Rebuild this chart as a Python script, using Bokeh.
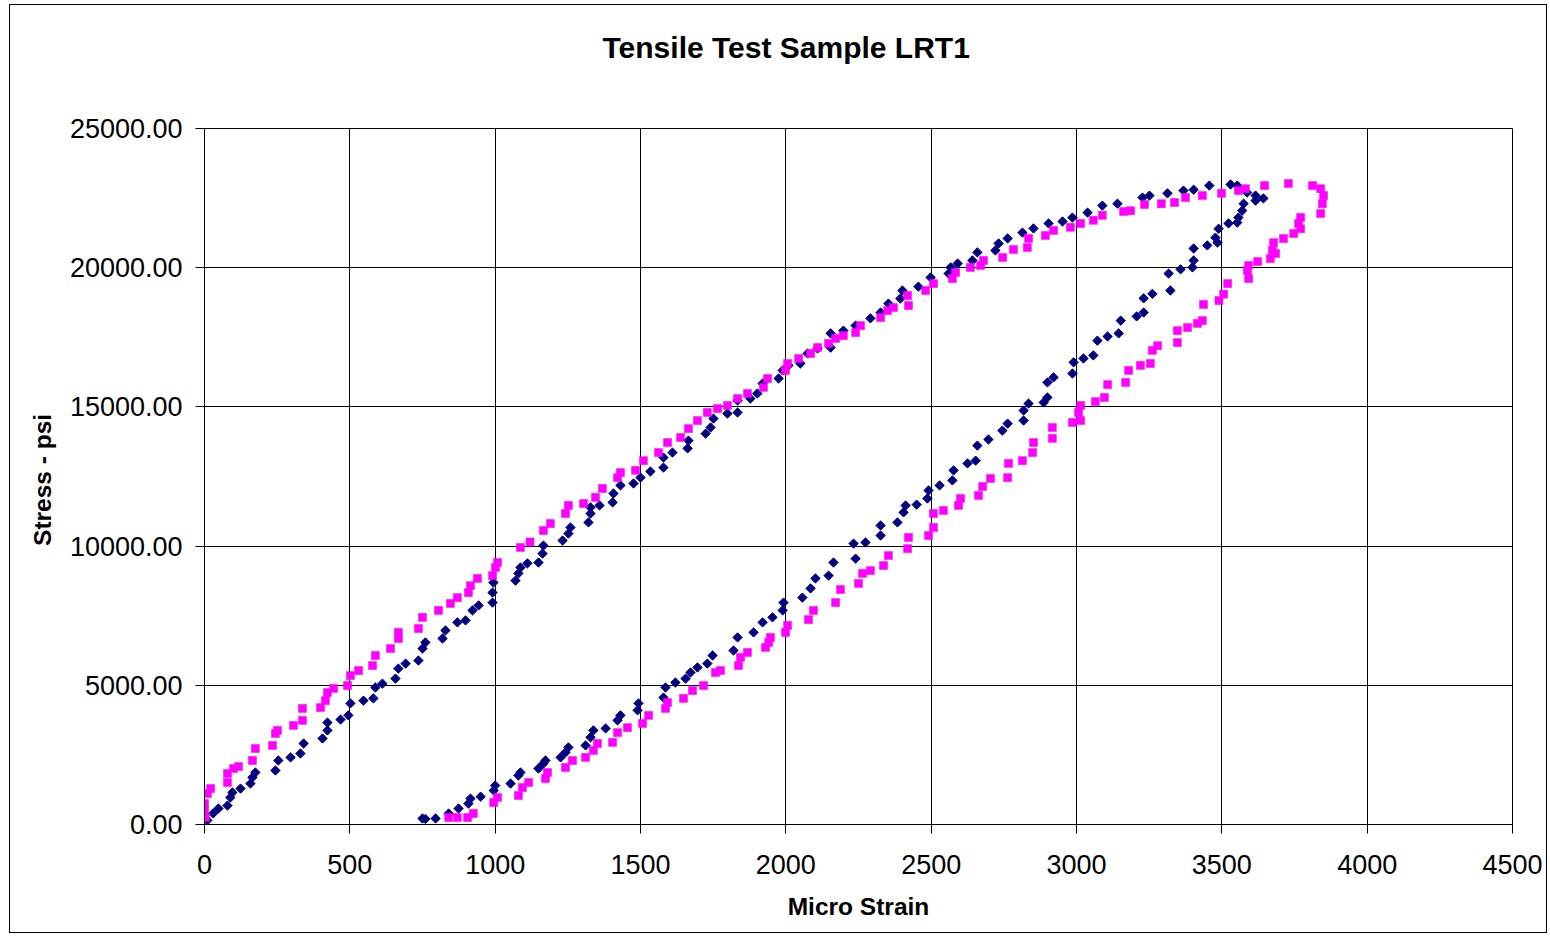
import numpy as np
from bokeh.plotting import figure
from bokeh.models import FixedTicker, NumeralTickFormatter, Title, Range1d
from bokeh.embed import file_html
from bokeh.resources import INLINE

# ---- data ----
navy_strain = [10, 30, 48, 79, 89, 96, 124, 158, 165, 175, 244, 254, 296, 330, 341, 406, 423, 423, 468, 495,
               502, 547, 581, 588, 612, 657, 667, 692, 736, 750, 760, 819, 829, 870, 898, 922, 943, 991, 991, 994,
               1070, 1080, 1087, 1111, 1149, 1163, 1166, 1232, 1252, 1259, 1321, 1328, 1328, 1359, 1404, 1407, 1431, 1476, 1500, 1534,
               1579, 1579, 1610, 1662, 1665, 1724, 1741, 1751, 1799, 1834, 1834, 1878, 1902, 1920, 1975, 1989, 2009, 2050, 2075, 2109,
               2154, 2154, 2198, 2240, 2291, 2326, 2353, 2394, 2401, 2456, 2498, 2560, 2567, 2591, 2642, 2659, 2721, 2732, 2763, 2814,
               2852, 2904, 2952, 2986, 3038, 3089, 3141, 3227, 3251, 3313, 3368, 3403, 3457, 3530, 3553, 3587, 3616, 3643, 3616,
               3575, 3570, 3557, 3553, 3523, 3489, 3478, 3485, 3450, 3403, 3403, 3399, 3358, 3317, 3323, 3261, 3231, 3231, 3207, 3152,
               3145, 3107, 3072, 3058, 3024, 2990, 2986, 2921, 2900, 2900, 2887, 2835, 2818, 2818, 2763, 2745, 2697, 2659, 2653, 2625,
               2577, 2573, 2529, 2491, 2487, 2450, 2412, 2405, 2384, 2326, 2326, 2274, 2233, 2240, 2164, 2147, 2102, 2085, 2057, 1992,
               1989, 1954, 1920, 1889, 1834, 1820, 1748, 1730, 1696, 1672, 1655, 1620, 1586, 1579, 1493, 1490, 1431, 1421, 1380, 1338,
               1328, 1311, 1252, 1242, 1225, 1173, 1166, 1149, 1087, 1080, 1053, 1000, 995, 950, 915, 908, 874, 840, 795, 760, 750]
navy_stress = [150, 400, 575, 680, 970, 1150, 1290, 1470, 1690, 1870, 1940, 2300, 2410, 2550, 2910, 3090, 3380, 3660, 3770, 3920,
               4350, 4450, 4530, 4920, 5060, 5240, 5600, 5780, 5890, 6320, 6540, 6680, 6970, 7260, 7330, 7690, 7870, 7970, 8330, 8690,
               8760, 9020, 9230, 9380, 9410, 9730, 10020, 10200, 10450, 10670, 10850, 11170, 11390, 11460, 11570, 11890, 12180, 12250, 12460, 12680,
               12820, 13180, 13360, 13510, 13790, 14040, 14260, 14580, 14760, 14800, 15230, 15300, 15480, 15840, 16020, 16310, 16490, 16560, 16920, 17100,
               17130, 17640, 17740, 17920, 18180, 18390, 18710, 18890, 19180, 19320, 19650, 19790, 20010, 20150, 20260, 20550, 20620, 20870, 21050, 21260,
               21410, 21590, 21660, 21800, 21980, 22230, 22300, 22520, 22590, 22670, 22770, 22800, 22950, 22990, 22950, 22700, 22590, 22490, 22410,
               22300, 22050, 21800, 21620, 21590, 21400, 21080, 20900, 20800, 20690, 20260, 20010, 19940, 19790, 19180, 19060, 18900, 18390, 18250, 18100,
               17640, 17530, 17380, 16850, 16740, 16600, 16200, 16060, 15880, 15340, 15160, 15120, 14870, 14510, 14400, 14150, 13830, 13610, 13070, 12970,
               12720, 12360, 12180, 12000, 11710, 11490, 11460, 11210, 10850, 10740, 10380, 10130, 10090, 9550, 9410, 8940, 8840, 8480, 8150, 7970,
               7690, 7440, 7260, 6900, 6720, 6250, 6070, 5780, 5640, 5460, 5240, 5100, 4920, 4560, 4350, 4100, 3920, 3740, 3450, 3380,
               3130, 2840, 2770, 2590, 2410, 2300, 2190, 2010, 1870, 1760, 1470, 1400, 1220, 1000, 930, 750, 575, 395, 215, 200, 215]

magenta_strain = [3, 0, 0, 10, 21, 79, 79, 100, 117, 165, 175, 234, 244, 251, 306, 337, 337, 399, 416, 423,
                  444, 492, 502, 530, 578, 588, 640, 667, 667, 736, 750, 805, 846, 870, 908, 915, 939, 991, 1001, 1008,
                  1087, 1120, 1166, 1190, 1242, 1252, 1304, 1345, 1369, 1421, 1431, 1483, 1510, 1562, 1593, 1638, 1665, 1696, 1730, 1765,
                  1799, 1834, 1868, 1923, 1937, 1999, 2006, 2044, 2085, 2109, 2147, 2171, 2198, 2240, 2257, 2326, 2350, 2370, 2422, 2419,
                  2481, 2508, 2573, 2584, 2635, 2670, 2680, 2746, 2783, 2831, 2835, 2893, 2921, 2979, 3014, 3058, 3089, 3162, 3186, 3234,
                  3292, 3337, 3375, 3433, 3499, 3557, 3581, 3647, 3729, 3812, 3840, 3850, 3846, 3840,
                  3771, 3764, 3771, 3747, 3712, 3678, 3674, 3685, 3667, 3623, 3592, 3588, 3592, 3520, 3506, 3490, 3437, 3433, 3416, 3382,
                  3347, 3347, 3279, 3261, 3254, 3220, 3179, 3169, 3107, 3096, 3065, 3014, 3007, 3014, 2986, 2917, 2917, 2852, 2849, 2814,
                  2766, 2763, 2704, 2677, 2663, 2601, 2594, 2542, 2508, 2508, 2491, 2422, 2419, 2353, 2336, 2291, 2264, 2250, 2188, 2171,
                  2095, 2078, 2006, 1999, 1947, 1941, 1930, 1868, 1844, 1837, 1775, 1758, 1717, 1679, 1648, 1593, 1586, 1528, 1507, 1455,
                  1421, 1404, 1352, 1338, 1311, 1266, 1242, 1180, 1173, 1115, 1094, 1080, 1008, 995, 925, 905, 870, 840]
magenta_stress = [250, 500, 750, 1110, 1290, 1510, 1830, 2010, 2080, 2300, 2730, 2840, 3270, 3380, 3560, 3740, 4170, 4200, 4450, 4740,
                  4890, 4990, 5350, 5530, 5710, 6070, 6320, 6680, 6900, 7040, 7440, 7690, 7940, 8150, 8330, 8580, 8840, 8940, 9230, 9410,
                  9950, 10150, 10560, 10810, 11170, 11460, 11530, 11750, 12070, 12460, 12640, 12720, 13070, 13360, 13720, 13900, 14220, 14510, 14800, 14940,
                  15050, 15300, 15480, 15700, 16020, 16310, 16560, 16740, 16920, 17130, 17280, 17460, 17560, 17670, 17920, 18210, 18460, 18570, 18640, 19000,
                  19180, 19430, 19610, 19830, 20010, 20080, 20260, 20370, 20650, 20730, 21050, 21160, 21340, 21450, 21590, 21700, 21880, 22020, 22050, 22270,
                  22300, 22340, 22520, 22590, 22670, 22770, 22840, 22950, 23020, 22950, 22840, 22590, 22300, 21950,
                  21800, 21590, 21400, 21230, 21050, 20900, 20620, 20510, 20330, 20220, 20080, 19900, 19610, 19430, 19050, 18820, 18680, 18100, 18000, 17850,
                  17740, 17310, 17200, 17030, 16560, 16490, 16310, 15880, 15800, 15340, 15190, 15050, 14800, 14510, 14440, 14260, 13870, 13720, 13360, 13070,
                  12970, 12460, 12430, 12140, 11820, 11710, 11460, 11280, 11170, 10670, 10380, 10310, 9910, 9660, 9300, 9120, 9020, 8660, 8440, 7970,
                  7690, 7360, 7150, 6900, 6720, 6540, 6360, 6180, 6000, 5710, 5530, 5460, 4990, 4810, 4530, 4380, 4170, 3920, 3630, 3480,
                  3300, 2950, 2910, 2660, 2410, 2300, 2050, 1870, 1650, 1510, 1330, 1040, 970, 790, 395, 250, 250, 250]

x_ticks = [0, 500, 1000, 1500, 2000, 2500, 3000, 3500, 4000, 4500]
y_ticks = [0, 5000, 10000, 15000, 20000, 25000]

title_text = "Tensile Test Sample LRT1"
x_label = "Micro Strain"
y_label = "Stress  - psi"

FONT = "Liberation Sans"

p = figure(
    frame_width=1308, frame_height=696,
    x_range=Range1d(0, 4500), y_range=Range1d(0, 25000),
    output_backend="svg", toolbar_location=None,
    min_border_left=194, min_border_right=34, min_border_top=0, min_border_bottom=108,
    background_fill_color="white", border_fill_color="white",
)
p.styles = {"border": "1px solid #000000", "margin-left": "9px", "margin-top": "4px"}

# real title (outermost panel)
p.title.text = title_text
p.title.align = "left"
p.title.offset = 398
p.title.text_font = FONT
p.title.text_font_size = "30px"
p.title.text_font_style = "bold"
p.title.text_color = "black"
p.title.standoff = 47

# empty spacer panel between the title and the plot area
spacer = Title(text=" ", text_font_size="1px", standoff=38)
p.add_layout(spacer, "above")

p.outline_line_color = "black"
p.outline_line_width = 1

for ax in (p.xaxis[0], p.yaxis[0]):
    ax.axis_line_color = "black"
    ax.major_tick_line_color = "black"
    ax.major_tick_out = 9
    ax.major_tick_in = 0
    ax.minor_tick_line_color = None
    ax.major_label_text_font = FONT
    ax.major_label_text_font_size = "27px"
    ax.major_label_text_color = "black"
    ax.axis_label_text_font = FONT
    ax.axis_label_text_font_size = "24.5px"
    ax.axis_label_text_font_style = "bold"
    ax.axis_label_text_color = "black"

p.xaxis.ticker = FixedTicker(ticks=x_ticks)
p.yaxis.ticker = FixedTicker(ticks=y_ticks)
p.yaxis.formatter = NumeralTickFormatter(format="0.00")
p.xaxis.axis_label = x_label
p.yaxis.axis_label = y_label
p.xaxis.major_label_standoff = 21
p.xaxis.axis_label_standoff = 16
p.yaxis.major_label_standoff = 13
p.yaxis.axis_label_standoff = 11

p.xgrid.ticker = FixedTicker(ticks=x_ticks)
p.ygrid.ticker = FixedTicker(ticks=y_ticks)
p.xgrid.grid_line_color = "black"
p.ygrid.grid_line_color = "black"
p.xgrid.grid_line_width = 1
p.ygrid.grid_line_width = 1

p.scatter(navy_strain, navy_stress, marker="square", angle=np.pi / 4, size=6.6,
          fill_color="#000080", line_color="#000080", line_width=1)
p.scatter(magenta_strain, magenta_stress, marker="square", size=8,
          fill_color="#FF00FF", line_color="#FF00FF", line_width=0.5)

open("out.html", "w").write(file_html(p, INLINE))
